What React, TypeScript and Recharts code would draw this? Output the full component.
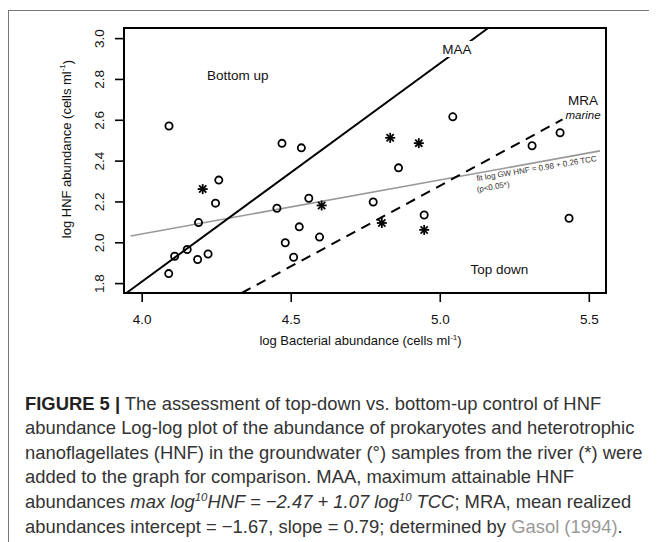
import React from 'react';
import {
  ReferenceArea,
  ReferenceLine,
  Scatter,
  ScatterChart,
  XAxis,
  YAxis,
} from 'recharts';

// groundwater samples (open circles)
const gwX = [4.09, 4.257, 4.246, 4.189, 4.109, 4.151, 4.186, 4.221, 4.089, 4.469, 4.534, 4.452, 4.559, 4.527, 4.48, 4.508, 4.595, 5.042, 5.402, 5.308, 4.86, 4.775, 4.946, 5.432];
const gwY = [2.572, 2.307, 2.194, 2.099, 1.934, 1.967, 1.918, 1.945, 1.849, 2.487, 2.465, 2.169, 2.218, 2.078, 2.0, 1.929, 2.028, 2.617, 2.539, 2.475, 2.367, 2.2, 2.136, 2.12];

// river samples (asterisks)
const rvX = [4.203, 4.602, 4.832, 4.928, 4.804, 4.946];
const rvY = [2.263, 2.183, 2.514, 2.488, 2.097, 2.063];

// reference lines (end points)
const maaLine = [{ x: 3.947, y: 1.754 }, { x: 5.161, y: 3.052 }];
const mraLine = [{ x: 4.334, y: 1.754 }, { x: 5.41, y: 2.604 }];
const fitLine = [{ x: 3.961, y: 2.033 }, { x: 5.536, y: 2.45 }];

const xTicks = [4.0, 4.5, 5.0, 5.5];
const yTicks = [1.8, 2.0, 2.2, 2.4, 2.6, 2.8, 3.0];
const xDomain: [number, number] = [3.939, 5.556];
const yDomain: [number, number] = [1.754, 3.052];

// in-plot annotations
const notes = [
  { x: 4.321, y: 2.817, text: 'Bottom up', kind: 'plain' },
  { x: 5.198, y: 1.868, text: 'Top down', kind: 'plain' },
  { x: 5.056, y: 2.949, text: 'MAA', kind: 'boxed' },
  { x: 5.479, y: 2.699, text: 'MRA', kind: 'plain' },
  { x: 5.479, y: 2.625, text: 'marine', kind: 'italic' },
  { x: 5.123, y: 2.302, text: 'fit log GW HNF = 0.98 + 0.26 TCC', kind: 'small' },
  { x: 5.124, y: 2.248, text: '(p<0.05*)', kind: 'small' },
];

const gwData = gwX.map((x, i) => ({ x, y: gwY[i] }));
const rvData = rvX.map((x, i) => ({ x, y: rvY[i] }));

const FONT = '"Liberation Sans", Arial, Helvetica, sans-serif';

const Ring = (p: any) => (
  <circle cx={p.cx} cy={p.cy} r={3.6} fill="none" stroke="#000" strokeWidth={1.8} />
);

const Star = (p: any) => {
  const s = 5;
  const d = 3.6;
  return (
    <g stroke="#000" strokeWidth={1.8}>
      <line x1={p.cx - s} y1={p.cy} x2={p.cx + s} y2={p.cy} />
      <line x1={p.cx} y1={p.cy - s} x2={p.cx} y2={p.cy + s} />
      <line x1={p.cx - d} y1={p.cy - d} x2={p.cx + d} y2={p.cy + d} />
      <line x1={p.cx - d} y1={p.cy + d} x2={p.cx + d} y2={p.cy - d} />
    </g>
  );
};

const Note = (p: any) => {
  const { cx, cy, payload } = p;
  if (payload.kind === 'small') {
    return (
      <text
        x={cx}
        y={cy}
        transform={`rotate(-9.5 ${cx} ${cy})`}
        fontSize={8}
        fontFamily={FONT}
        fill="#333"
      >
        {payload.text}
      </text>
    );
  }
  return (
    <g>
      {payload.kind === 'boxed' && (
        <rect x={cx - 16} y={cy - 8} width={32} height={16} fill="#fff" />
      )}
      <text
        x={cx}
        y={cy}
        textAnchor="middle"
        dominantBaseline="central"
        fontSize={payload.kind === 'italic' ? 11.5 : 13.5}
        fontStyle={payload.kind === 'italic' ? 'italic' : 'normal'}
        fontFamily={FONT}
        fill="#111"
      >
        {payload.text}
      </text>
    </g>
  );
};

const XTick = (p: any) => (
  <text x={p.x} y={p.y + 22} textAnchor="middle" fontSize={13.5} fontFamily={FONT} fill="#111">
    {p.payload.value.toFixed(1)}
  </text>
);

const YTick = (p: any) => {
  const x = p.x - 15;
  return (
    <text
      x={x}
      y={p.y}
      transform={`rotate(-90 ${x} ${p.y})`}
      textAnchor="middle"
      dominantBaseline="central"
      fontSize={13.5}
      fontFamily={FONT}
      fill="#111"
    >
      {p.payload.value.toFixed(1)}
    </text>
  );
};

function Plot() {
  return (
    <ScatterChart
      width={657}
      height={370}
      margin={{ top: 28, right: 51, bottom: 27, left: 84 }}
      style={{ position: 'absolute', left: 0, top: 0 }}
    >
      <XAxis
        type="number"
        dataKey="x"
        domain={xDomain}
        ticks={xTicks}
        allowDataOverflow
        height={50}
        axisLine={false}
        tickSize={9}
        tickMargin={0}
        tickLine={{ stroke: '#000', strokeWidth: 1.6 }}
        tick={XTick}
        label={{
          content: () => (
            <text x={360.5} y={345} textAnchor="middle" fontSize={13} fontFamily={FONT} fill="#111">
              log Bacterial abundance (cells ml
              <tspan fontSize={8} dy={-5}>-1</tspan>
              <tspan dy={5}>)</tspan>
            </text>
          ),
        }}
      />
      <YAxis
        type="number"
        dataKey="y"
        domain={yDomain}
        ticks={yTicks}
        allowDataOverflow
        width={40}
        axisLine={false}
        tickSize={9}
        tickMargin={0}
        tickLine={{ stroke: '#000', strokeWidth: 1.6 }}
        tick={YTick}
        label={{
          content: () => (
            <text
              x={66.7}
              y={149}
              transform="rotate(-90 66.7 149)"
              textAnchor="middle"
              dominantBaseline="central"
              fontSize={13}
              fontFamily={FONT}
              fill="#111"
            >
              log HNF abundance (cells ml
              <tspan fontSize={8} dy={-5}>-1</tspan>
              <tspan dy={5}>)</tspan>
            </text>
          ),
        }}
      />
      <ReferenceLine segment={fitLine} stroke="#999" strokeWidth={1.6} ifOverflow="visible" />
      <ReferenceLine
        segment={mraLine}
        stroke="#000"
        strokeWidth={2}
        strokeDasharray="10 7"
        ifOverflow="visible"
      />
      <ReferenceLine segment={maaLine} stroke="#000" strokeWidth={2} ifOverflow="visible" />
      <ReferenceArea
        x1={xDomain[0]}
        x2={xDomain[1]}
        y1={yDomain[0]}
        y2={yDomain[1]}
        fill="none"
        stroke="#000"
        strokeWidth={2}
        ifOverflow="visible"
      />
      <Scatter data={gwData} shape={Ring} isAnimationActive={false} />
      <Scatter data={rvData} shape={Star} isAnimationActive={false} />
      <Scatter data={notes} shape={Note} isAnimationActive={false} />
    </ScatterChart>
  );
}

const sup: React.CSSProperties = { fontSize: '0.62em', verticalAlign: 'super', lineHeight: 0 };

export default function App() {
  return (
    <div
      style={{
        position: 'relative',
        width: 657,
        height: 550,
        background: '#fff',
        overflow: 'hidden',
        margin: -8,
      }}
    >
      <div
        style={{
          position: 'absolute',
          left: 8,
          top: 10,
          width: 700,
          height: 600,
          borderTop: '1px solid #777',
          borderLeft: '1px solid #777',
        }}
      />
      <Plot />
      <div
        style={{
          position: 'absolute',
          left: 25,
          top: 391.7,
          fontFamily: FONT,
          fontSize: 18.4,
          lineHeight: '24.6px',
          color: '#333',
          whiteSpace: 'nowrap',
        }}
      >
        <div>
          <b style={{ color: '#222' }}>FIGURE 5 |</b> The assessment of top-down vs. bottom-up control of HNF
        </div>
        <div>abundance Log-log plot of the abundance of prokaryotes and heterotrophic</div>
        <div>nanoflagellates (HNF) in the groundwater (°) samples from the river (*) were</div>
        <div>added to the graph for comparison. MAA, maximum attainable HNF</div>
        <div>
          abundances{' '}
          <i>
            max log<sup style={sup}>10</sup>HNF = −2.47 + 1.07 log<sup style={sup}>10</sup> TCC
          </i>
          ; MRA, mean realized
        </div>
        <div>
          abundances intercept = −1.67, slope = 0.79; determined by{' '}
          <span style={{ color: '#999' }}>Gasol (1994)</span>.
        </div>
      </div>
    </div>
  );
}
